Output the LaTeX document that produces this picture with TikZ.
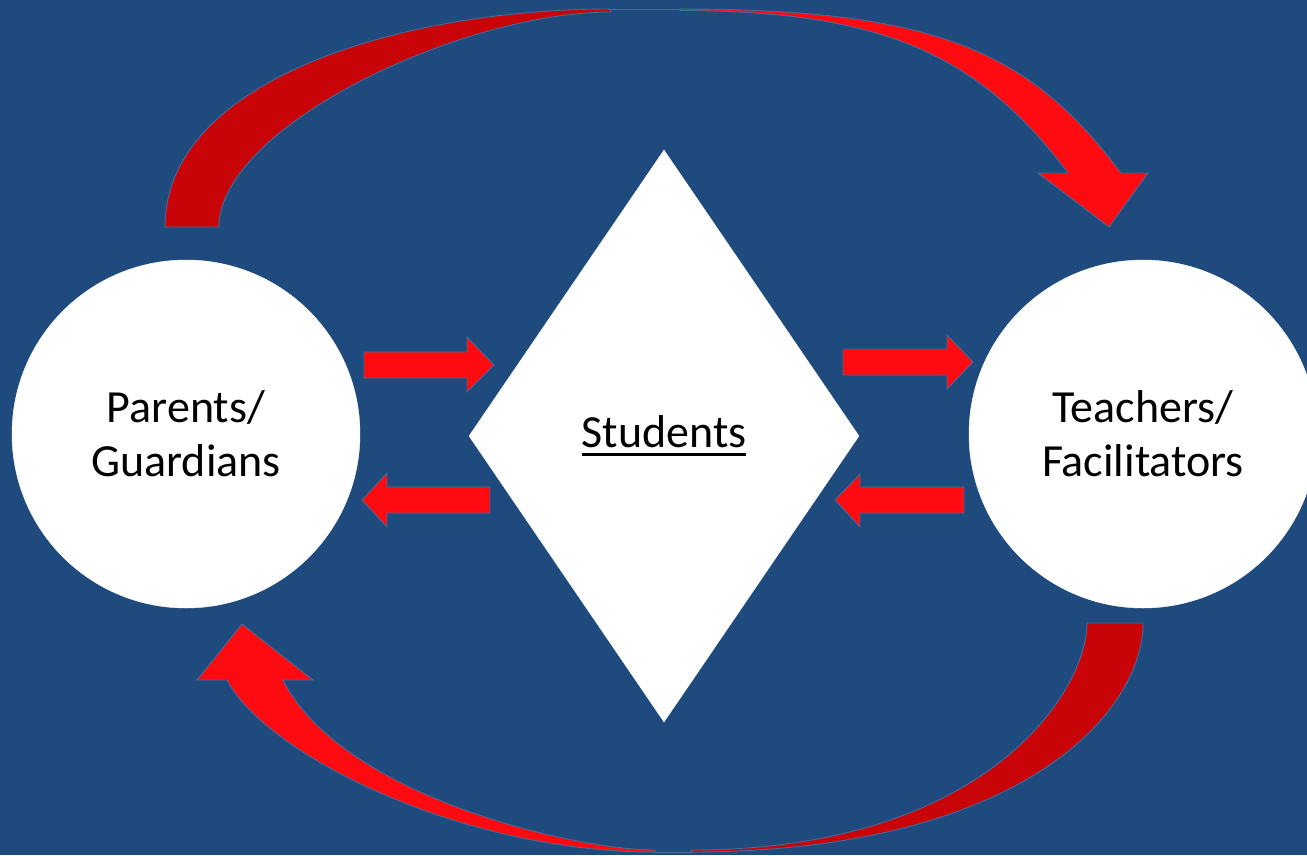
\documentclass[tikz,border=0pt]{standalone}
\usepackage{fontspec}
\setmainfont{Carlito}
\usetikzlibrary{shapes.geometric}
\definecolor{bgblue}{RGB}{31,74,125}
\definecolor{edgeblue}{RGB}{70,106,152}
\definecolor{brightred}{RGB}{255,10,16}
\definecolor{darkred}{RGB}{200,4,8}
\newcommand\thickul[1]{\setbox0\hbox{#1}\rlap{\raisebox{-8pt}{\rule{\wd0}{3pt}}}\box0}
\tikzset{
  bubble/.style={circle, fill=white, draw=white, minimum size=348pt, inner sep=0pt, align=center,
     font=\fontsize{46}{54}\selectfont},
  gem/.style={diamond, fill=white, draw=white, minimum width=390pt, minimum height=572pt, inner sep=0pt,
     font=\fontsize{46}{54}\selectfont},
  brightpart/.style={fill=brightred, draw=edgeblue, line width=0.9pt, line join=miter},
  darkpart/.style={fill=darkred, draw=edgeblue, line width=0.9pt},
  rim/.style={draw=edgeblue, line width=0.9pt}
}
\begin{document}
\begin{tikzpicture}[x=1pt,y=-1pt]
\fill[bgblue] (0,0) rectangle (1307,855);
\useasboundingbox (0,0) rectangle (1307,855);

% nodes
\node[bubble] (parents) at (186,434) {Parents/\\Guardians};
\node[bubble] (teachers) at (1143,434) {Teachers/\\Facilitators};
\node[gem] (students) at (664,436) {\thickul{Students}};

% top curved arrow (parents -> teachers)
\path[darkpart] (165,227) .. controls (165,78) and (406,9) .. (610,9)
   -- (611,12) .. controls (461,12) and (219,127) .. (219,227) -- cycle;
\path[brightpart] (680,9) .. controls (940,9) and (1031,53) .. (1121,173)
   -- (1148,173) -- (1109,227) -- (1038,173) -- (1068,173)
   .. controls (978,53) and (880,11) .. (680,10.5) -- cycle;
\path[rim] (608,9) -- (682,9);

% bottom curved arrow (teachers -> parents)
\path[darkpart] (1143,623) .. controls (1143,715) and (1016,852) .. (691,852)
   -- (691,850) .. controls (987,850) and (1087,691) .. (1087,623) -- cycle;
\path[brightpart] (655,852) .. controls (455,852) and (263,751) .. (227,680)
   -- (197,680) -- (242,624) -- (313,680) -- (283,680)
   .. controls (341,796) and (575,850) .. (655,850) -- cycle;
\path[rim] (653,852) -- (693,852);

% straight block arrows
\path[brightpart] (364,352) -- (467,352) -- (467,337) -- (494,365) -- (467,392) -- (467,378) -- (364,378) -- cycle;
\path[brightpart] (490,487) -- (387,487) -- (387,473) -- (362,500) -- (387,527) -- (387,513) -- (490,513) -- cycle;
\path[brightpart] (843,349) -- (947,349) -- (947,335) -- (973,362) -- (947,389) -- (947,375) -- (843,375) -- cycle;
\path[brightpart] (964,487) -- (860,487) -- (860,474) -- (835,500) -- (860,527) -- (860,513) -- (964,513) -- cycle;
\end{tikzpicture}
\end{document}
